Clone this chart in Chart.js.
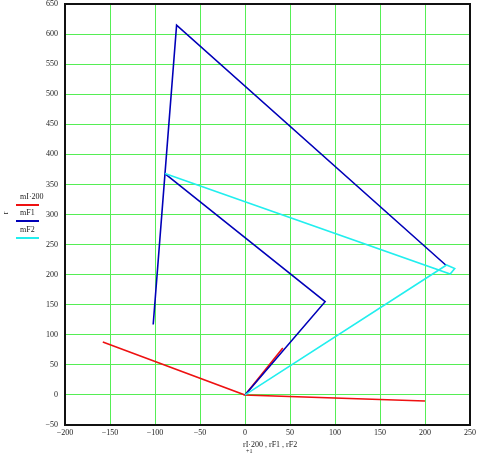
<!DOCTYPE html>
<html lang="en">
<head>
  <meta charset="UTF-8" />
  <title>Linkage plot</title>
  <script src="https://cdn.jsdelivr.net/npm/chart.js"></script>
  <style>
    body { margin: 0; background: #fff; }
    #wrap { position: relative; width: 478px; height: 454px; font-family: 'Liberation Serif', serif; color: #222; }
    #wrap canvas { position: absolute; left: 0; top: 0; }
    .txt { position: absolute; font-size: 8px; line-height: 8px; white-space: nowrap; }
    .key { position: absolute; height: 2px; width: 23px; left: 16px; }
  </style>
</head>
<body>
  <div id="wrap">
    <canvas id="grafico" width="478" height="454"></canvas>
    <div class="txt" style="left:5px; top:209px; transform:rotate(-90deg);">r</div>
    <div class="txt" style="left:20px; top:193px;">mI·200</div>
    <div class="key" style="top:204px; background:#ee1111;"></div>
    <div class="txt" style="left:20px; top:209px;">mF1</div>
    <div class="key" style="top:220px; background:#0000b8;"></div>
    <div class="txt" style="left:20px; top:226px;">mF2</div>
    <div class="key" style="top:237px; background:#22eeee;"></div>
    <div class="txt" style="left:243px; top:441px;">rI·200 , rF1 , rF2</div>
    <div class="txt" style="left:246px; top:447px; font-size:6px;">+1</div>
  </div>

  <script>
    // values
    const redX = [-158, 0, 42, 0, 200];
    const redY = [88, 0, 78, 0, -10];

    const blueAX = [-102, -76, 223];
    const blueAY = [117, 615, 216];
    const blueBX = [-89, 89, 0];
    const blueBY = [368, 155, 0];

    const cyanX = [0, 224, 233, 228, -89];
    const cyanY = [0, 216, 210, 201, 368];

    const xTicks = [-200, -150, -100, -50, 0, 50, 100, 150, 200, 250];
    const yTicks = [-50, 0, 50, 100, 150, 200, 250, 300, 350, 400, 450, 500, 550, 600, 650];

    function puntos(xs, ys) {
      return xs.map((x, i) => ({ x: x, y: ys[i] }));
    }

    function linea(xs, ys, color, orden) {
      return {
        data: puntos(xs, ys),
        showLine: true,
        borderColor: color,
        borderWidth: 1.6,
        pointRadius: 0,
        fill: false,
        tension: 0,
        order: orden
      };
    }

    const marco = {
      id: 'marco',
      afterDraw(chart) {
        const a = chart.chartArea;
        const c = chart.ctx;
        c.save();
        c.strokeStyle = '#111';
        c.lineWidth = 2;
        c.strokeRect(a.left, a.top, a.right - a.left, a.bottom - a.top);
        c.restore();
      }
    };

    const fuente = { family: 'Liberation Serif', size: 8 };
    const fmt = v => (v < 0 ? '\u2212' + Math.abs(v) : String(v));

    new Chart(document.getElementById('grafico'), {
      type: 'scatter',
      data: {
        datasets: [
          linea(cyanX, cyanY, '#22eeee', 1),
          linea(blueAX, blueAY, '#0000b8', 2),
          linea(blueBX, blueBY, '#0000b8', 2),
          linea(redX, redY, '#ee1111', 3)
        ]
      },
      options: {
        responsive: false,
        animation: false,
        layout: { padding: { left: 0, top: 4, right: 8, bottom: 0 } },
        plugins: {
          legend: { display: false },
          tooltip: { enabled: false }
        },
        scales: {
          x: {
            type: 'linear',
            min: -200,
            max: 250,
            afterBuildTicks: s => { s.ticks = xTicks.map(v => ({ value: v })); },
            afterFit: s => { s.height = 29; s.paddingLeft = 0; s.paddingRight = 0; },
            grid: { color: '#55ee55', lineWidth: 1, drawTicks: false },
            border: { display: false },
            ticks: { font: fuente, color: '#222', padding: 3, maxRotation: 0, callback: fmt }
          },
          y: {
            type: 'linear',
            min: -50,
            max: 650,
            afterBuildTicks: s => { s.ticks = yTicks.map(v => ({ value: v })); },
            afterFit: s => { s.width = 65; s.paddingTop = 0; s.paddingBottom = 0; },
            grid: { color: '#55ee55', lineWidth: 1, drawTicks: false },
            border: { display: false },
            ticks: { font: fuente, color: '#222', padding: 7, callback: fmt }
          }
        }
      },
      plugins: [marco]
    });
  </script>
</body>
</html>
